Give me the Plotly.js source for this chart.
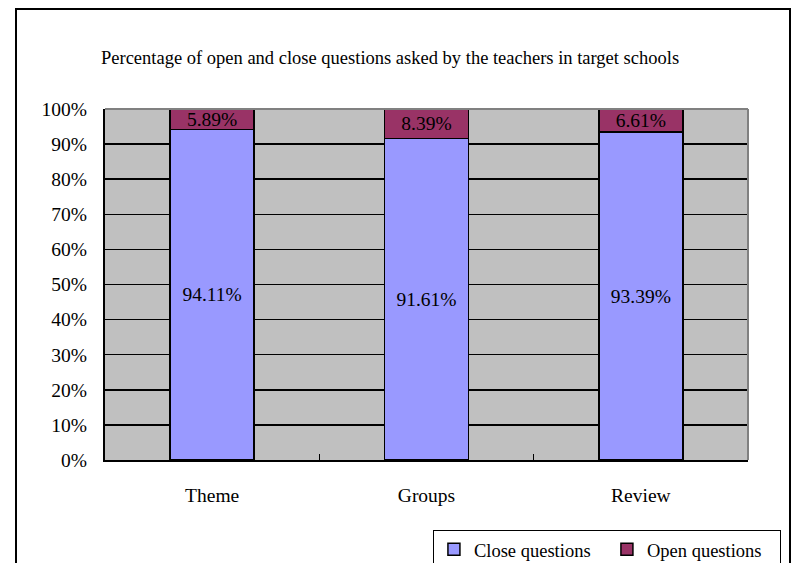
<!DOCTYPE html>
<html>
<head>
<meta charset="utf-8">
<script src="https://cdn.plot.ly/plotly-3.0.1.min.js"></script>
<style>html,body{margin:0;padding:0;background:#fff;}#chart{width:792px;height:563px;}</style>
</head>
<body>
<div id="chart"></div>
<script>
const categories = ["Theme", "Groups", "Review"];
const closeValues = [94.11, 91.61, 93.39];
const openValues = [5.89, 8.39, 6.61];
const yTicks = [0, 10, 20, 30, 40, 50, 60, 70, 80, 90, 100];

const FONT = "Liberation Serif";

const traces = [
  {
    type: "bar", name: "Close questions", x: categories, y: closeValues,
    text: closeValues.map(v => v.toFixed(2) + "%"), textposition: "inside",
    insidetextanchor: "middle", constraintext: "none",
    textfont: {family: FONT, size: 19.5, color: "#000"},
    marker: {color: "#9999FF", line: {color: "#000", width: 1.5}},
    hoverinfo: "none"
  },
  {
    type: "bar", name: "Open questions", x: categories, y: openValues,
    text: openValues.map(v => v.toFixed(2) + "%"), textposition: "inside",
    insidetextanchor: "middle", constraintext: "none",
    textfont: {family: FONT, size: 19.5, color: "#000"},
    marker: {color: "#993366", line: {color: "#000", width: 1.5}},
    hoverinfo: "none"
  }
];

const layout = {
  width: 792, height: 563,
  margin: {l: 105, r: 44, t: 109, b: 103, autoexpand: false},
  paper_bgcolor: "#fff", plot_bgcolor: "#C0C0C0",
  barmode: "stack", bargap: 0.608,
  font: {family: FONT, size: 18.5, color: "#000"},
  showlegend: true,
  title: {
    text: "Percentage of open and close questions asked by the teachers in target schools",
    font: {family: FONT, size: 18.5, color: "#000"},
    xref: "container", yref: "container", x: 0.4925, y: 0.897,
    xanchor: "center", yanchor: "middle"
  },
  xaxis: {
    type: "category", showgrid: false, zeroline: false,
    showline: true, linecolor: "#000", linewidth: 2,
    ticks: "inside", tickson: "boundaries", ticklen: 6, tickcolor: "#000", tickwidth: 1.5,
    ticklabelstandoff: 17,
    tickfont: {family: FONT, size: 19.5, color: "#000"}
  },
  yaxis: {
    range: [0, 100], tickvals: yTicks, ticktext: yTicks.map(v => v + "%"),
    showgrid: true, gridcolor: "#000", gridwidth: 1.5, zeroline: false,
    showline: true, linecolor: "#000", linewidth: 2,
    ticks: "inside", ticklen: 4, tickcolor: "#000", tickwidth: 1.5,
    ticklabelstandoff: 12,
    tickfont: {family: FONT, size: 19.5, color: "#000"}
  },
  legend: {
    orientation: "h", x: 0.51, y: -0.199, xanchor: "left", yanchor: "top",
    bgcolor: "#fff", bordercolor: "#000", borderwidth: 1,
    font: {family: FONT, size: 18.5, color: "#000"},
    entrywidth: 128, entrywidthmode: "pixels",
    traceorder: "normal"
  },
  shapes: [
    {type: "line", xref: "paper", yref: "paper", x0: 0, x1: 1, y0: 1, y1: 1, line: {color: "#808080", width: 2}},
    {type: "line", xref: "paper", yref: "paper", x0: 1, x1: 1, y0: 0, y1: 1, line: {color: "#808080", width: 2}},
    {type: "rect", xref: "paper", yref: "paper",
      x0: (16 - 105) / 643, x1: (790 - 105) / 643, y0: (460 - 575) / 351, y1: (460 - 9) / 351,
      line: {color: "#000", width: 2}, fillcolor: "rgba(0,0,0,0)", layer: "below"}
  ]
};

Plotly.newPlot("chart", traces, layout, {displayModeBar: false, staticPlot: true});
</script>
</body>
</html>
